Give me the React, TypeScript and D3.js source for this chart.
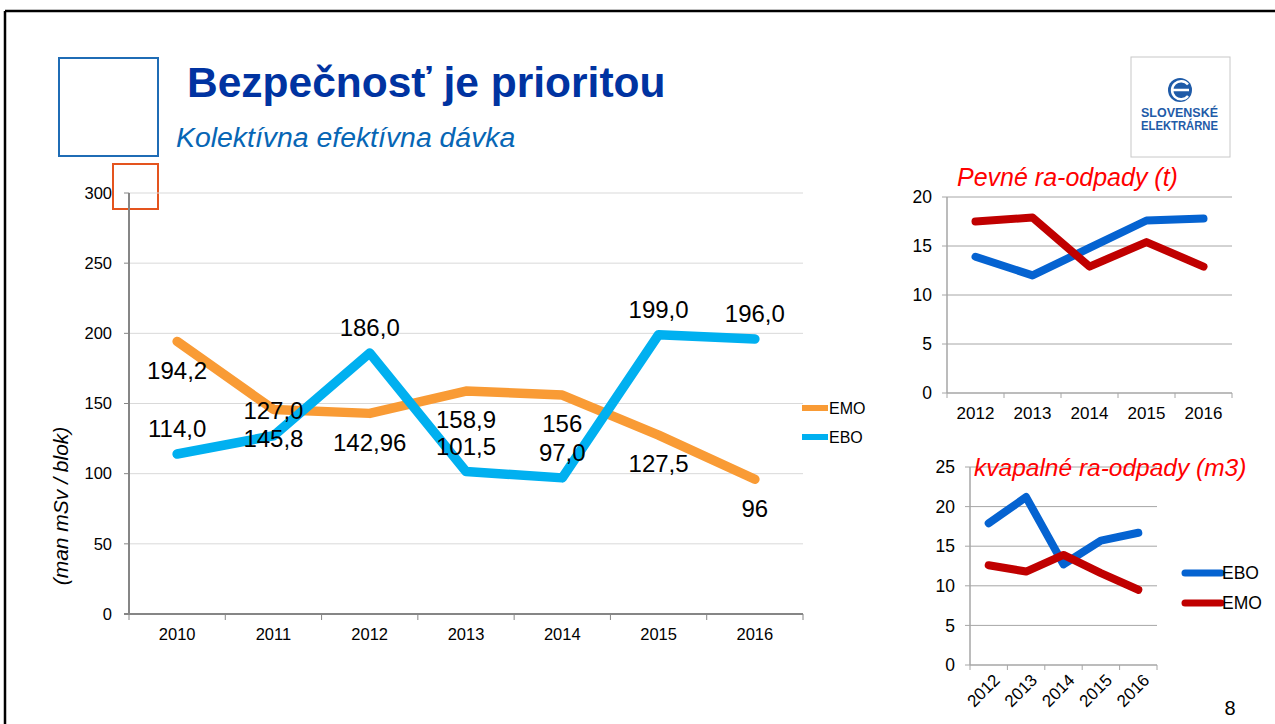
import * as d3 from "d3";

// main chart: collective effective dose
const years = ["2010", "2011", "2012", "2013", "2014", "2015", "2016"];
const emoDose = [194.2, 145.8, 142.96, 158.9, 156, 127.5, 96];
const eboDose = [114.0, 127.0, 186.0, 101.5, 97.0, 199.0, 196.0];
const emoDoseLabels = ["194,2", "145,8", "142,96", "158,9", "156", "127,5", "96"];
const eboDoseLabels = ["114,0", "127,0", "186,0", "101,5", "97,0", "199,0", "196,0"];
const doseTicks = [0, 50, 100, 150, 200, 250, 300];

// small charts: radioactive waste
const wasteYears = ["2012", "2013", "2014", "2015", "2016"];
const solidEbo = [13.9, 12.0, 14.8, 17.6, 17.8];
const solidEmo = [17.5, 17.9, 12.9, 15.4, 12.9];
const solidTicks = [0, 5, 10, 15, 20];
const liquidEbo = [17.9, 21.2, 12.7, 15.7, 16.7];
const liquidEmo = [12.6, 11.8, 13.9, 11.6, 9.5];
const liquidTicks = [0, 5, 10, 15, 20, 25];

const FONT = "Arial, 'Liberation Sans', sans-serif";
const ORANGE = "#F99B35";
const CYAN = "#00B0F0";
const BLUE = "#0563D1";
const RED = "#C00000";

function MainChart() {
  const x = d3.scaleBand().domain(years).range([129, 803]);
  const y = d3.scaleLinear().domain([0, 300]).range([614, 193]);
  const cx = (d: string) => (x(d) as number) + x.bandwidth() / 2;
  const line = d3
    .line<number>()
    .x((_, i) => cx(years[i]))
    .y((d) => y(d));

  return (
    <g fontFamily={FONT}>
      {doseTicks.map((t) => (
        <g key={t}>
          {t > 0 && <line x1={129} x2={803} y1={y(t)} y2={y(t)} stroke="#D9D9D9" />}
          <line x1={124} x2={129} y1={y(t)} y2={y(t)} stroke="#868686" />
          <text x={112} y={y(t)} dy="0.35em" textAnchor="end" fontSize={16.5}>
            {t}
          </text>
        </g>
      ))}
      <line x1={129} x2={129} y1={y(300)} y2={y(0)} stroke="#868686" strokeWidth={2} />
      <line x1={124} x2={803} y1={y(0)} y2={y(0)} stroke="#868686" strokeWidth={2} />
      {years.map((d, i) => (
        <line key={d} x1={129 + i * x.step()} x2={129 + i * x.step()} y1={y(0)} y2={y(0) + 6} stroke="#868686" />
      ))}
      <line x1={803} x2={803} y1={y(0)} y2={y(0) + 6} stroke="#868686" />
      {years.map((d) => (
        <text key={d} x={cx(d)} y={640} textAnchor="middle" fontSize={16.5}>
          {d}
        </text>
      ))}
      <text
        transform={`translate(68,506) rotate(-90)`}
        textAnchor="middle"
        fontSize={21}
        fontStyle="italic"
      >
        (man mSv / blok)
      </text>

      <path d={line(emoDose) as string} fill="none" stroke={ORANGE} strokeWidth={9.5} strokeLinecap="round" strokeLinejoin="round" />
      <path d={line(eboDose) as string} fill="none" stroke={CYAN} strokeWidth={9.5} strokeLinecap="round" strokeLinejoin="round" />

      {emoDose.map((v, i) => (
        <text key={"o" + i} x={cx(years[i])} y={y(v) + 29} dy="0.35em" textAnchor="middle" fontSize={24}>
          {emoDoseLabels[i]}
        </text>
      ))}
      {eboDose.map((v, i) => (
        <text key={"b" + i} x={cx(years[i])} y={y(v) - 25} dy="0.35em" textAnchor="middle" fontSize={24}>
          {eboDoseLabels[i]}
        </text>
      ))}

      <line x1={802} x2={828} y1={408} y2={408} stroke={ORANGE} strokeWidth={6} />
      <text x={829} y={408} dy="0.35em" fontSize={16}>EMO</text>
      <line x1={802} x2={828} y1={437} y2={437} stroke={CYAN} strokeWidth={6} />
      <text x={829} y={437} dy="0.35em" fontSize={16}>EBO</text>
    </g>
  );
}

type SmallProps = {
  ebo: number[];
  emo: number[];
  ticks: number[];
  left: number;
  right: number;
  top: number;
  bottom: number;
  rotateLabels: boolean;
};

function SmallChart({ ebo, emo, ticks, left, right, top, bottom, rotateLabels }: SmallProps) {
  const x = d3.scaleBand().domain(wasteYears).range([left, right]);
  const y = d3.scaleLinear().domain([0, ticks[ticks.length - 1]]).range([bottom, top]);
  const cx = (d: string) => (x(d) as number) + x.bandwidth() / 2;
  const line = d3
    .line<number>()
    .x((_, i) => cx(wasteYears[i]))
    .y((d) => y(d));

  return (
    <g fontFamily={FONT}>
      {ticks.map((t) => (
        <g key={t}>
          {t > 0 && <line x1={left} x2={right} y1={y(t)} y2={y(t)} stroke="#A6A6A6" />}
          <line x1={left - 5} x2={left} y1={y(t)} y2={y(t)} stroke="#A6A6A6" />
          <text x={left - 15} y={y(t)} dy="0.35em" textAnchor="end" fontSize={17.5}>
            {t}
          </text>
        </g>
      ))}
      <line x1={left} x2={left} y1={top} y2={bottom} stroke="#A6A6A6" strokeWidth={1.5} />
      <line x1={left} x2={right} y1={bottom} y2={bottom} stroke="#A6A6A6" strokeWidth={1.5} />
      {wasteYears.map((d, i) => (
        <line key={d} x1={left + i * x.step()} x2={left + i * x.step()} y1={bottom} y2={bottom + 5} stroke="#A6A6A6" />
      ))}
      <line x1={right} x2={right} y1={bottom} y2={bottom + 5} stroke="#A6A6A6" />
      {wasteYears.map((d) =>
        rotateLabels ? (
          <text
            key={d}
            transform={`translate(${cx(d) + 8},${bottom + 12}) rotate(-45)`}
            textAnchor="end"
            dy="0.35em"
            fontSize={17}
          >
            {d}
          </text>
        ) : (
          <text key={d} x={cx(d)} y={bottom + 26} textAnchor="middle" fontSize={17}>
            {d}
          </text>
        )
      )}
      <path d={line(ebo) as string} fill="none" stroke={BLUE} strokeWidth={8} strokeLinecap="round" strokeLinejoin="round" />
      <path d={line(emo) as string} fill="none" stroke={RED} strokeWidth={8} strokeLinecap="round" strokeLinejoin="round" />
    </g>
  );
}

export default function App() {
  return (
    <svg
      width={1275}
      height={724}
      style={{ position: "absolute", left: 0, top: 0, background: "#fff" }}
      fontFamily={FONT}
    >
      <rect x={0} y={0} width={1275} height={724} fill="#fff" />
      {/* slide frame */}
      <line x1={5} x2={1275} y1={11} y2={11} stroke="#000" strokeWidth={2.5} />
      <line x1={5} x2={5} y1={11} y2={724} stroke="#000" strokeWidth={2.5} />

      <rect x={59} y={58} width={99} height={98} fill="none" stroke="#1F6CB5" strokeWidth={2} />
      <rect x={113} y={164} width={45} height={45} fill="none" stroke="#E4541E" strokeWidth={2} />

      <text x={187} y={97} fontSize={42.5} fontWeight="bold" fill="#0033A1">
        Bezpečnosť je prioritou
      </text>
      <text x={176} y={147} fontSize={28.4} fontStyle="italic" fill="#0766B5">
        Kolektívna efektívna dávka
      </text>

      {/* logo */}
      <rect x={1131} y={57} width={99} height={100} fill="#fff" stroke="#C8C8C8" />
      <circle cx={1180} cy={90} r={12} fill="#1F5BA8" />
      <path d="M1171,90 H1189 M1188,84.5 A9,9 0 1 0 1188,96" fill="none" stroke="#fff" strokeWidth={2.5} />
      <text x={1141} y={117} fontSize={12} fontWeight="bold" fill="#1F5BA8" textLength={77} lengthAdjust="spacingAndGlyphs">
        SLOVENSKÉ
      </text>
      <text x={1141} y={130} fontSize={12} fontWeight="bold" fill="#1F5BA8" textLength={77} lengthAdjust="spacingAndGlyphs">
        ELEKTRÁRNE
      </text>

      <MainChart />

      <SmallChart ebo={solidEbo} emo={solidEmo} ticks={solidTicks} left={947} right={1232} top={197} bottom={393} rotateLabels={false} />
      <text x={957} y={186} fontSize={25} fontStyle="italic" fill="#FF0000">
        Pevné ra-odpady (t)
      </text>

      <SmallChart ebo={liquidEbo} emo={liquidEmo} ticks={liquidTicks} left={970} right={1157} top={467} bottom={665} rotateLabels={true} />
      <text x={974} y={476} fontSize={24.5} fontStyle="italic" fill="#FF0000">
        kvapalné ra-odpady (m3)
      </text>
      <line x1={1185} x2={1221} y1={573} y2={573} stroke={BLUE} strokeWidth={7} strokeLinecap="round" />
      <text x={1222} y={573} dy="0.35em" fontSize={17.5}>EBO</text>
      <line x1={1185} x2={1221} y1={603} y2={603} stroke={RED} strokeWidth={7} strokeLinecap="round" />
      <text x={1222} y={603} dy="0.35em" fontSize={17.5}>EMO</text>

      <text x={1230} y={715} fontSize={20} textAnchor="middle">8</text>
    </svg>
  );
}
